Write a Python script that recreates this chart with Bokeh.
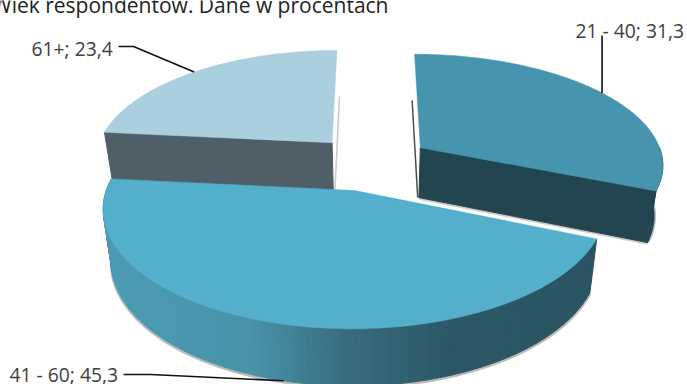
import numpy as np
from bokeh.core.properties import value
from bokeh.embed import file_html
from bokeh.plotting import figure
from bokeh.resources import INLINE

# Age groups and their share of respondents, in percent
age_groups = ["21 - 40", "41 - 60", "61+"]
shares = [31.3, 45.3, 23.4]
title_text = "Wiek respondentów. Dane w procentach"

W, H = 687, 384

# Perspective camera for the tilted pie
VANISH_X, MID_Y = 372.0, 166.0
RADIUS_X, RADIUS_Y = 245.0, 111.4
PERSPECTIVE = 0.14

# Where each exploded slice's tip sits on the pie plane, and its horizontal scale
slice_tips = [(0.20, 0.173), (-0.07, -0.21), (-0.17, 0.22)]
slice_widths = [1.0, 0.985, 0.978]
top_colors = ["#4694ad", "#53afca", "#aacfdf"]
face_colors = ["#22454f", "#2b5764", "#4f5f67"]

# Wall shading of the largest slice runs from light on the left to dark on the right
wall_x = [100, 250, 340, 450, 600]
wall_rgb = np.array([[76, 156, 181], [72, 147, 170], [58, 110, 127], [44, 88, 102], [42, 84, 98]], float)


def project(X, Y):
    w = 1 + PERSPECTIVE * Y
    return VANISH_X + RADIUS_X * X / w, MID_Y - RADIUS_Y * Y / w


def drop(sx, sy):
    """Move a point from the top of the pie to its base."""
    return VANISH_X + (sx - VANISH_X) * 0.97, sy + 50 + 0.04 * (sy - 150)


def rim(i, a0, a1, n=120):
    t = np.radians(np.linspace(a0, a1, n))
    tip = slice_tips[i]
    return project(tip[0] + slice_widths[i] * np.sin(t), tip[1] + np.cos(t))


def wall_color(x):
    rgb = [int(np.interp(x, wall_x, wall_rgb[:, i])) for i in range(3)]
    return "#%02x%02x%02x" % tuple(rgb)


p = figure(width=W, height=H, x_range=(0, W), y_range=(H, 0), toolbar_location=None,
           output_backend="svg", min_border=0, outline_line_color=None)
p.axis.visible = False
p.grid.visible = False

edges = np.concatenate([[0], np.cumsum(shares)]) * 3.6
mids = (edges[:-1] + edges[1:]) / 2

# Back slices first, the big front slice last
for i in (2, 0, 1):
    a0, a1 = edges[i], edges[i + 1]
    rx, ry = rim(i, a0, a1)
    tx, ty = project(*slice_tips[i])

    if i == 1:
        bx, by = drop(rx, ry)
        p.line(bx, by + 1.2, line_color="#555555", line_alpha=0.4, line_width=3)
        xs, ys, cs = [], [], []
        for j in range(len(rx) - 1):
            xs.append([rx[j], rx[j + 1], bx[j + 1], bx[j]])
            ys.append([ry[j], ry[j + 1], by[j + 1], by[j]])
            cs.append(wall_color((rx[j] + rx[j + 1]) / 2))
        p.patches(xs, ys, fill_color=cs, line_color=cs, line_width=1)
    else:
        # Hidden back edge of the cut shows as a thin sliver beside the top face
        back = -1 if i == 2 else 0
        hx, hy = drop(np.array([rx[back], tx]), np.array([ry[back], ty]))
        if i == 2:
            p.line(hx + 1.5, hy, line_color="#777777", line_alpha=0.4, line_width=1.5)
        else:
            p.line(hx - 1.2, hy, line_color="#222222", line_alpha=0.8, line_width=1.5)

        # Dark cut face towards the viewer, and the short stretch of outer wall next to it
        end = 0 if i == 2 else -1
        fx, fy = drop(np.array([tx, rx[end]]), np.array([ty, ry[end]]))
        p.line(fx, fy + 1.2, line_color="#555555", line_alpha=0.3, line_width=2)
        p.patch([tx, rx[end], fx[1], fx[0]], [ty, ry[end], fy[1], fy[0]],
                fill_color=face_colors[i], line_color=face_colors[i])
        if i == 0:
            wx, wy = rim(i, 90, a1, 30)
            dx, dy = drop(wx, wy)
            p.line(dx + 1, dy, line_color="#555555", line_alpha=0.35, line_width=2)
            p.patch(np.r_[wx, dx[::-1]], np.r_[wy, dy[::-1]], fill_color=face_colors[i], line_color=face_colors[i])

    p.patch(np.r_[tx, rx], np.r_[ty, ry], fill_color=top_colors[i], line_color=top_colors[i], line_width=0.5)

# Leader lines run from beside each label to the middle of the slice's rim
anchors = []
for i, m in enumerate(mids):
    ax, ay = rim(i, m, m, 1)
    if i == 1:
        ax, ay = drop(ax, ay)
    anchors.append((float(ax[0]), float(ay[0])))

leader_x = [[anchors[0][0], anchors[0][0]], [123, 150, anchors[1][0]], [118, 133, anchors[2][0]]]
leader_y = [[35, anchors[0][1]], [374, 374, anchors[1][1]], [46, 46, anchors[2][1]]]
p.multi_line(leader_x, leader_y, line_color="#111111", line_width=1.6)

label_text = [f"{g}; {str(s).replace('.', ',')}" for g, s in zip(age_groups, shares)]
p.text([575, 9, 31], [30, 374, 48], text=label_text, text_font=value("Open Sans"), text_font_size="19.3px",
       text_color="#404040", text_align="left", text_baseline="alphabetic")
p.text([388], [4], text=[title_text], text_font=value("Open Sans"), text_font_size="21px",
       text_color="#222222", text_align="right", text_baseline="alphabetic")

open("out.html", "w").write(file_html(p, INLINE))
